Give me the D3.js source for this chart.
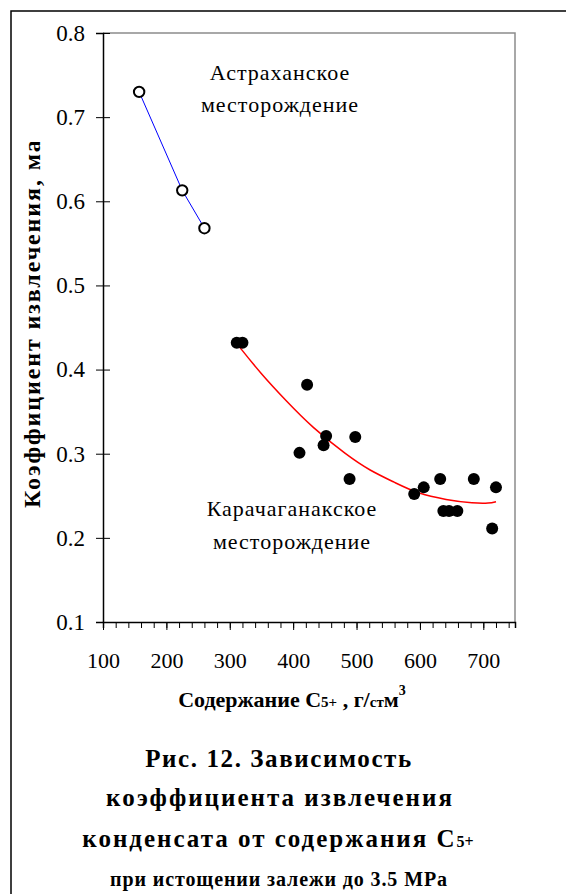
<!DOCTYPE html>
<html>
<head>
<meta charset="utf-8">
<script src="https://cdn.jsdelivr.net/npm/d3@7"></script>
<style>
  body { margin: 0; background: #fff; }
</style>
</head>
<body>
<script>
// Астраханское (open circles)
var astrX = [157, 225, 260],
    astrY = [0.730, 0.613, 0.568];

// Карачаганакское (filled circles)
var karX = [311, 320, 410, 422, 448, 452, 489, 498, 591, 606, 632, 637, 646, 659, 685, 714, 720],
    karY = [0.432, 0.432, 0.301, 0.382, 0.310, 0.321, 0.270, 0.320, 0.252, 0.260, 0.270, 0.232, 0.232, 0.232, 0.270, 0.211, 0.260];

// red trend line
var trendX = [312, 348, 390, 429, 485, 521, 560, 595, 642, 685, 710, 720],
    trendY = [0.430, 0.396, 0.362, 0.332, 0.298, 0.280, 0.266, 0.253, 0.245, 0.241, 0.241, 0.243];

var yTicks = [0.1, 0.2, 0.3, 0.4, 0.5, 0.6, 0.7, 0.8],
    xTicks = [100, 200, 300, 400, 500, 600, 700];

var width = 566, height = 894;
var mLeft = 103, mRight = 515, mTop = 33, mBottom = 622;
var serif = "'Liberation Serif', 'Times New Roman', serif";

var svg = d3.select("body").append("svg")
    .attr("width", width)
    .attr("height", height)
    .style("font-family", serif);

// outer frame
svg.append("rect")
    .attr("x", 11).attr("y", 11)
    .attr("width", 600).attr("height", 950)
    .attr("fill", "none")
    .attr("stroke", "#000")
    .attr("stroke-width", 1.5);

var x = d3.scaleLinear().domain([100, 750]).range([mLeft, mRight]);
var y = d3.scaleLinear().domain([0.1, 0.8]).range([mBottom, mTop]);

// plot area border (top + right grey)
svg.append("path")
    .attr("d", "M" + mLeft + "," + mTop + "H" + mRight + "V" + mBottom)
    .attr("fill", "none")
    .attr("stroke", "#8c8c8c")
    .attr("stroke-width", 1.5);

// y axis
var yAxis = svg.append("g")
    .attr("transform", "translate(" + mLeft + ",0)")
    .call(d3.axisLeft(y).tickValues(yTicks).tickSize(7).tickPadding(11).tickFormat(d3.format(".1f")));
yAxis.select(".domain").attr("stroke-width", 1.5);
yAxis.selectAll(".tick line").attr("x1", 7);
yAxis.selectAll("text")
    .style("font-family", serif)
    .style("font-size", "23px")
    .attr("fill", "#000");

// x axis minor ticks
var xMinor = svg.append("g")
    .attr("transform", "translate(0," + mBottom + ")")
    .call(d3.axisBottom(x).tickValues(d3.range(100, 741, 20)).tickSize(6).tickFormat(""));
xMinor.select(".domain").attr("stroke-width", 1.5);

var xAxis = svg.append("g")
    .attr("transform", "translate(0," + mBottom + ")")
    .call(d3.axisBottom(x).tickValues(xTicks).tickSize(8));
xAxis.select(".domain").remove();
xAxis.selectAll("text")
    .attr("y", 46).attr("dy", null)
    .style("font-family", serif)
    .style("font-size", "22px")
    .attr("fill", "#000");

// lines
var line = d3.line()
    .x(function(d){ return x(d[0]); })
    .y(function(d){ return y(d[1]); });

svg.append("path")
    .datum(d3.zip(astrX, astrY))
    .attr("d", line.curve(d3.curveLinear))
    .attr("fill", "none")
    .attr("stroke", "#0000ff")
    .attr("stroke-width", 1);

svg.append("path")
    .datum(d3.zip(trendX, trendY))
    .attr("d", line.curve(d3.curveBasis))
    .attr("fill", "none")
    .attr("stroke", "#ff0000")
    .attr("stroke-width", 1.5);

// points
svg.selectAll(".astr")
    .data(d3.zip(astrX, astrY))
    .enter().append("circle")
    .attr("class", "astr")
    .attr("cx", function(d){ return x(d[0]); })
    .attr("cy", function(d){ return y(d[1]); })
    .attr("r", 5.2)
    .attr("fill", "#fff")
    .attr("stroke", "#000")
    .attr("stroke-width", 2);

svg.selectAll(".kar")
    .data(d3.zip(karX, karY))
    .enter().append("circle")
    .attr("class", "kar")
    .attr("cx", function(d){ return x(d[0]); })
    .attr("cy", function(d){ return y(d[1]); })
    .attr("r", 6)
    .attr("fill", "#000");

// annotations
function note(cx, y1, y2, t1) {
    var g = svg.append("g")
        .style("font-family", serif)
        .style("font-size", "22px")
        .attr("text-anchor", "middle")
        .attr("letter-spacing", 1);
    g.append("text").attr("x", cx).attr("y", y1).text(t1);
    g.append("text").attr("x", cx).attr("y", y2).text("месторождение");
}
note(280, 80, 112, "Астраханское");
note(292, 516, 549, "Карачаганакское");

// y label (clipped like the original)
svg.append("clipPath").attr("id", "ylab")
    .append("rect").attr("x", 0).attr("y", 142).attr("width", 100).attr("height", 700);
svg.append("g")
    .attr("clip-path", "url(#ylab)")
    .append("text")
    .attr("transform", "translate(40,508) rotate(-90)")
    .style("font-family", serif)
    .style("font-size", "24px")
    .attr("font-weight", "bold")
    .attr("letter-spacing", 1.9)
    .text("Коэффициент извлечения, мас. доли");

// x label
var xl = svg.append("text")
    .attr("x", 292).attr("y", 707)
    .attr("text-anchor", "middle")
    .style("font-family", serif)
    .style("font-size", "22px")
    .attr("font-weight", "bold");
xl.append("tspan").text("Содержание С");
xl.append("tspan").style("font-size", "15px").text("5+");
xl.append("tspan").text(" , г/");
xl.append("tspan").style("font-size", "15px").text("ст");
xl.append("tspan").text("м");
xl.append("tspan").style("font-size", "14px").attr("dy", -12).text("3");

// caption
var cap = svg.append("g").attr("text-anchor", "middle").attr("font-weight", "bold").style("font-family", serif);
cap.append("text").attr("x", 279).attr("y", 767).style("font-size", "25px").attr("letter-spacing", 1.6).text("Рис. 12. Зависимость");
cap.append("text").attr("x", 280).attr("y", 806).style("font-size", "25px").attr("letter-spacing", 2).text("коэффициента извлечения");
var c3 = cap.append("text").attr("x", 278).attr("y", 847).style("font-size", "25px").attr("letter-spacing", 2);
c3.append("tspan").text("конденсата от содержания С");
c3.append("tspan").style("font-size", "16px").attr("letter-spacing", 0).text("5+");
cap.append("text").attr("x", 279).attr("y", 886).style("font-size", "20px").attr("letter-spacing", 0.9).text("при истощении залежи до  3.5 MPa");
</script>
</body>
</html>
